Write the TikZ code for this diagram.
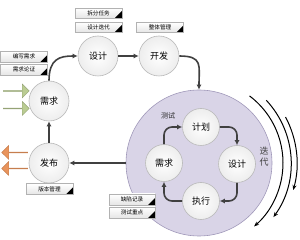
\documentclass[tikz,border=0pt]{standalone}
\usepackage{fontspec}
\newfontfamily\cjk{Noto Sans CJK SC}
\usetikzlibrary{arrows.meta,positioning,calc,shapes.arrows}
\definecolor{loopFill}{RGB}{217,212,231}
\definecolor{loopLine}{RGB}{160,152,185}
\definecolor{arrowGray}{RGB}{64,64,64}
\definecolor{leafGreen}{RGB}{186,204,146}
\definecolor{leafOrange}{RGB}{233,148,92}
\tikzset{
	phase/.style={
		circle,
		draw=gray!55,
		line width=0.6pt,
		inner color=white,
		outer color=gray!14,
		minimum size=40pt,
		inner sep=0pt,
		font=\cjk\fontsize{9}{10}\selectfont
	},
	subphase/.style={phase, minimum size=37pt},
	tag/.style={
		rectangle,
		draw=gray!60,
		line width=0.4pt,
		top color=white,
		bottom color=gray!20,
		minimum width=47pt,
		minimum height=10pt,
		inner sep=0pt,
		font=\cjk\fontsize{5.6}{6}\selectfont,
		path picture={\fill[black] (path picture bounding box.south east) -- ++(0pt,7pt) -- ++(-7pt,-7pt) -- cycle;}
	},
	flow/.style={-{Latex[length=5pt,width=5pt]}, line width=1.6pt, arrowGray},
	spin/.style={-{Stealth[length=5pt,width=4pt]}, line width=1pt, black},
	inarrow/.style={single arrow, minimum height=26pt, minimum width=14pt, single arrow head extend=3pt, inner sep=0pt, fill=leafGreen, draw=leafGreen!80!black, line width=0.4pt},
	outarrow/.style={inarrow, shape border rotate=180, fill=leafOrange, draw=leafOrange!85!black}
}
\begin{document}
\begin{tikzpicture}[x=1pt, y=-1pt, font=\cjk]
		\useasboundingbox (0,0) rectangle (300,240);
		\node[circle, fill=loopFill, draw=loopLine, line width=0.6pt, minimum size=146pt] (iter) at (199,163) {};
		\node[phase] (req) at (49,101) {需求};
		\node[phase] (des) at (98,56) {设计};
		\node[phase] (dev) at (159,56) {开发};
		\node[phase] (rel) at (49,163) {发布};
		\node[subphase] (plan) at (201,127) {计划};
		\node[subphase] (idesign) at (237,164) {设计};
		\node[subphase] (exec) at (201,201) {执行};
		\node[subphase] (ireq) at (164,163) {需求};
		\node[font=\cjk\fontsize{7}{8}\selectfont, text=black!85] (test) at (168,116) {测试};
		\node[font=\cjk\fontsize{9}{11}\selectfont, text=arrowGray, align=center, inner sep=0pt] (loop) at (264,157) {迭\\代};
		\node[tag] (split) at (98.5,13) {拆分任务};
		\node[tag] (desiter) at (98.5,27) {设计迭代};
		\node[tag] (manage) at (160,27.5) {整体管理};
		\node[tag, minimum height=11pt] (write) at (24,56.5) {编写需求};
		\node[tag, minimum height=11pt] (verify) at (24,69.5) {需求论证};
		\node[tag, minimum height=11pt] (version) at (49.5,189) {版本管理};
		\node[tag, minimum width=46pt, minimum height=11pt] (defect) at (132,199.5) {缺陷记录};
		\node[tag, minimum width=46pt, minimum height=11pt] (focus) at (132,212.5) {测试重点};
		\node[inarrow] (gin1) at (16,91) {};
		\node[inarrow] (gin2) at (16,108.5) {};
		\node[outarrow] (oout1) at (15,152.5) {};
		\node[outarrow] (oout2) at (15,168.5) {};
		\draw[flow] (req.north) .. controls +(0,-22) and +(-18,0) .. (des.west);
		\draw[flow] (des) -- (dev);
		\draw[flow] (dev.east) .. controls +(24,0) and +(0,-24) .. (iter.north);
		\draw[flow] (iter.west) -- (rel.east);
		\draw[flow] (rel) -- (req);
		\draw[flow, rounded corners=8pt] (ireq.north) |- (plan.west);
		\draw[flow, rounded corners=8pt] (plan.east) -| (idesign.north);
		\draw[flow, rounded corners=8pt] (idesign.south) |- (exec.east);
		\draw[flow, rounded corners=8pt] (exec.west) -| (ireq.south);
		\draw[spin] ($(iter.center)+(-53:84)$) arc[start angle=-53, end angle=49, radius=84];
		\draw[spin] ($(iter.center)+(-43:92)$) arc[start angle=-43, end angle=36, radius=92];
		\draw[spin] ($(iter.center)+(-28:98)$) arc[start angle=-28, end angle=16, radius=98];
	\end{tikzpicture}
\end{document}
